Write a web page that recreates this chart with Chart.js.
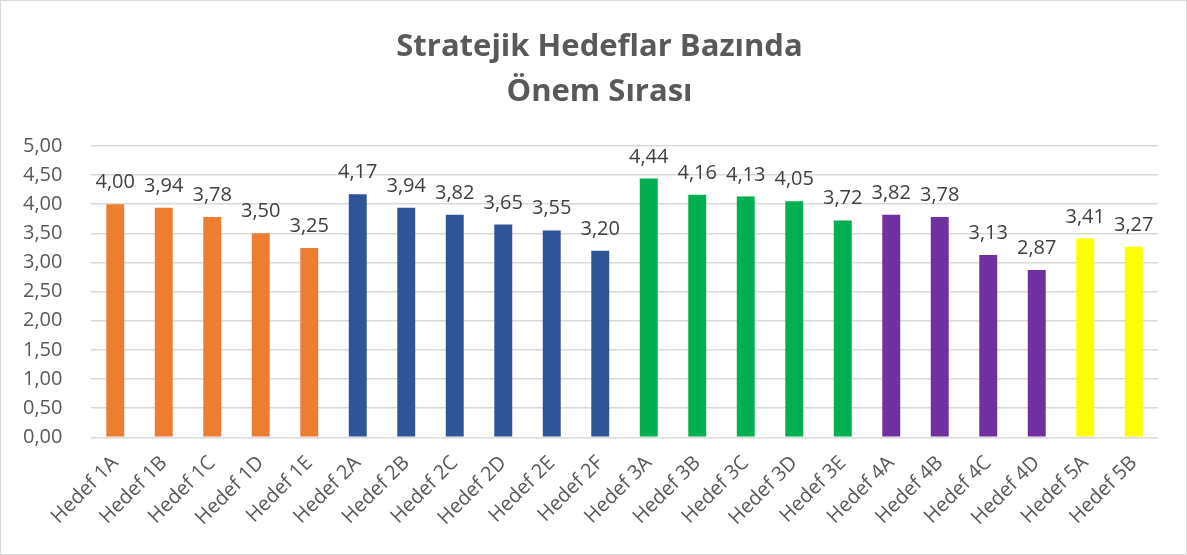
<!DOCTYPE html>
<html>
<head>
<meta charset="utf-8">
<script src="https://cdn.jsdelivr.net/npm/chart.js@4.4.1/dist/chart.umd.min.js"></script>
<style>
  html, body { margin: 0; padding: 0; background: #fff; }
  #wrap { position: relative; width: 1185px; height: 553px; border: 1px solid #d9d9d9; }
</style>
</head>
<body>
<div id="wrap"><canvas id="chart"></canvas></div>
<script>
const categories = ['Hedef 1A','Hedef 1B','Hedef 1C','Hedef 1D','Hedef 1E',
  'Hedef 2A','Hedef 2B','Hedef 2C','Hedef 2D','Hedef 2E','Hedef 2F',
  'Hedef 3A','Hedef 3B','Hedef 3C','Hedef 3D','Hedef 3E',
  'Hedef 4A','Hedef 4B','Hedef 4C','Hedef 4D',
  'Hedef 5A','Hedef 5B'];
const values = [4.00, 3.94, 3.78, 3.50, 3.25,
  4.17, 3.94, 3.82, 3.65, 3.55, 3.20,
  4.44, 4.16, 4.13, 4.05, 3.72,
  3.82, 3.78, 3.13, 2.87,
  3.41, 3.27];
const groupColors = { '1': '#ED7D31', '2': '#2F5597', '3': '#00B050', '4': '#7030A0', '5': '#FFFF00' };
const barColors = categories.map(c => groupColors[c.charAt(6)]);

const fmt = v => v.toFixed(2).replace('.', ',');

// value labels above each bar
const valueLabels = {
  id: 'valueLabels',
  afterDatasetsDraw(chart) {
    const ctx = chart.ctx;
    const meta = chart.getDatasetMeta(0);
    ctx.save();
    ctx.font = '20px "Open Sans", sans-serif';
    ctx.fillStyle = '#404040';
    ctx.textAlign = 'center';
    ctx.textBaseline = 'alphabetic';
    meta.data.forEach((bar, i) => {
      ctx.fillText(fmt(values[i]), bar.x, bar.y - 16);
    });
    ctx.restore();
  }
};

new Chart(document.getElementById('chart'), {
  type: 'bar',
  data: {
    labels: categories,
    datasets: [{ data: values, backgroundColor: barColors, borderWidth: 0, barPercentage: 0.37, categoryPercentage: 1 }]
  },
  options: {
    responsive: true,
    maintainAspectRatio: false,
    animation: false,
    layout: { padding: { left: 40, right: 28, bottom: 18 } },
    plugins: {
      legend: { display: false },
      tooltip: { enabled: false },
      title: {
        display: true,
        text: ['Stratejik Hedeflar Bazında', 'Önem Sırası'],
        color: '#595959',
        font: { family: '"Open Sans", sans-serif', size: 31, weight: 'bold', lineHeight: 1.45 },
        padding: { top: 24, bottom: 31 }
      }
    },
    scales: {
      y: {
        min: 0, max: 5,
        // labels sit in the left margin, outside the plot
        afterFit: scale => { scale.width = 50; },
        ticks: { stepSize: 0.5, mirror: true, padding: -68, color: '#595959', font: { family: '"Open Sans", sans-serif', size: 20 }, callback: v => fmt(v) },
        grid: { color: '#d9d9d9', lineWidth: 1.5, drawTicks: false },
        border: { display: false }
      },
      x: {
        ticks: { color: '#595959', font: { family: '"Open Sans", sans-serif', size: 20 }, minRotation: 45, maxRotation: 45, padding: 6 },
        grid: { display: false },
        border: { display: false }
      }
    }
  },
  plugins: [valueLabels]
});
</script>
</body>
</html>
